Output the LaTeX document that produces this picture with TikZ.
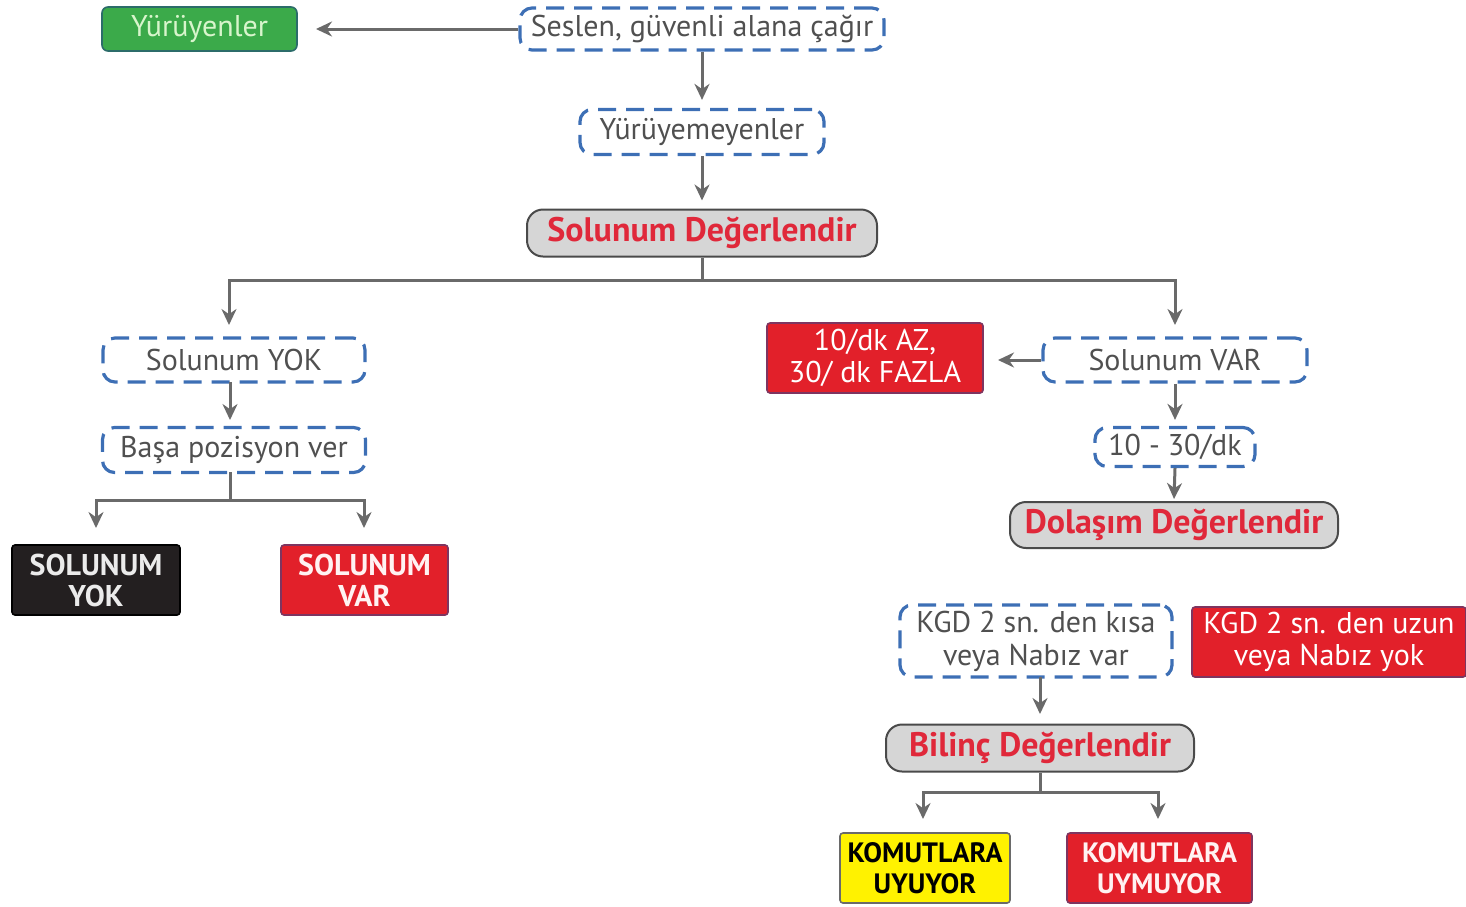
\documentclass[tikz,border=0pt]{standalone}
\usepackage{fontspec}
\setmainfont{PT Sans}
\usetikzlibrary{arrows.meta}
\definecolor{dashblue}{HTML}{3D6FB5}
\definecolor{txtgray}{HTML}{505050}
\definecolor{arrgray}{HTML}{6A6A6A}
\definecolor{boxred}{HTML}{E2202A}
\definecolor{redrim}{HTML}{7E3560}
\definecolor{evalred}{HTML}{E0283A}
\definecolor{evalfill}{HTML}{D6D6D6}
\definecolor{evalrim}{HTML}{4A4A4A}
\definecolor{okgreen}{HTML}{3BAA4A}
\definecolor{greenrim}{HTML}{2C6C6A}
\definecolor{greentxt}{HTML}{D8F5CC}
\definecolor{warnyellow}{HTML}{FFF200}
\definecolor{darkbox}{HTML}{231F20}
\tikzset{
  dashbox/.style={draw=dashblue, line width=1.6pt, dash pattern=on 9pt off 5pt,
    rounded corners=6pt, text=txtgray, font=\fontsize{15}{16.5}\selectfont,
    inner sep=0pt, align=center},
  evalbox/.style={draw=evalrim, fill=evalfill, line width=1pt, rounded corners=8pt,
    text=evalred, font=\fontsize{17}{19}\selectfont\bfseries, inner sep=0pt},
  redbox/.style={draw=redrim, fill=boxred, line width=0.8pt, rounded corners=1.5pt,
    text=white, font=\fontsize{15}{16}\selectfont, inner sep=0pt, align=center},
  capbox/.style={line width=0.8pt, rounded corners=1.5pt,
    font=\fontsize{15}{15.5}\selectfont\bfseries, inner sep=0pt, align=center},
  smallcap/.style={font=\fontsize{14}{15.5}\selectfont\bfseries},
  flow/.style={draw=arrgray, line width=1.5pt, -{Stealth[length=8pt,width=7.5pt]}},
  link/.style={draw=arrgray, line width=1.5pt},
}
\begin{document}
\begin{tikzpicture}[x=0.5pt, y=-0.5pt]
\useasboundingbox (0,0) rectangle (1466,906);

% first triage step
\node[capbox, draw=greenrim, fill=okgreen, text=greentxt, font=\fontsize{15}{16}\selectfont,
      minimum width=97.5pt, minimum height=22pt, rounded corners=3pt] (walk) at (199.5,29) {Yürüyenler};
\node[dashbox, minimum width=182pt, minimum height=21pt] (call) at (702,29) {Seslen, güvenli alana çağır};
\node[dashbox, minimum width=122pt, minimum height=22.5pt] (nowalk) at (702,132) {Yürüyemeyenler};
\node[evalbox, minimum width=175pt, minimum height=23.5pt] (resp) at (702,233) {Solunum Değerlendir};

% no breathing branch
\node[dashbox, minimum width=131pt, minimum height=22pt] (rno) at (234,360) {Solunum YOK};
\node[dashbox, minimum width=131.5pt, minimum height=22.5pt] (pos) at (234,450) {Başa pozisyon ver};
\node[capbox, draw=black, fill=darkbox, text=white!92!black,
      minimum width=84pt, minimum height=35pt] (dead) at (96,580) {SOLUNUM\\YOK};
\node[capbox, draw=redrim, fill=boxred, text=white!95!red,
      minimum width=83.5pt, minimum height=35pt] (rback) at (364.5,580) {SOLUNUM\\VAR};

% breathing branch
\node[dashbox, minimum width=132pt, minimum height=22pt] (ryes) at (1175,360) {Solunum VAR};
\node[redbox, minimum width=108pt, minimum height=35pt] (rate) at (875,358) {10/dk AZ,\\30/ dk FAZLA};
\node[dashbox, minimum width=80pt, minimum height=19.5pt] (norm) at (1175,447) {10 - 30/dk};
\node[evalbox, minimum width=164pt, minimum height=23pt] (circ) at (1174,525) {Dolaşım Değerlendir};

% circulation
\node[dashbox, minimum width=136pt, minimum height=36pt] (kgdok) at (1036,641) {KGD 2 sn. den kısa\\veya Nabız var};
\node[redbox, minimum width=137pt, minimum height=35pt] (kgdbad) at (1329,642) {KGD 2 sn. den uzun\\veya Nabız yok};
\node[evalbox, minimum width=154pt, minimum height=23.5pt] (cons) at (1040,748) {Bilinç Değerlendir};
\node[capbox, smallcap, draw=arrgray, fill=warnyellow, text=black,
      minimum width=85pt, minimum height=35pt] (obey) at (925,868) {KOMUTLARA\\UYUYOR};
\node[capbox, smallcap, draw=redrim, fill=boxred, text=white!95!red,
      minimum width=92.5pt, minimum height=35pt] (noobey) at (1159.5,868) {KOMUTLARA\\UYMUYOR};

% junctions and arrow ends
\coordinate (walktip) at (316,29);
\coordinate (rj) at (702,280);
\coordinate (rnotip) at (229,325);
\coordinate (ryestip) at (1175,325);
\coordinate (rnofoot) at (230,382);
\coordinate (postip) at (230,420);
\coordinate (posfoot) at (230,472);
\coordinate (pj) at (230,500);
\coordinate (deadtip) at (96,528);
\coordinate (rbacktip) at (364,528);
\coordinate (ratetip) at (998,358);
\coordinate (kgdfoot) at (1040,677);
\coordinate (constip) at (1040,714);
\coordinate (cj) at (1040,792);
\coordinate (obeytip) at (923,819);
\coordinate (noobeytip) at (1158,819);

% connectors
\draw[flow] (call.west) -- (walktip);
\draw[flow] (call.south) -- ([yshift=4pt]nowalk.north);
\draw[flow] (nowalk.south) -- ([yshift=4pt]resp.north);

\draw[link] (resp.south) -- (rj);
\draw[flow] (rj) -| (rnotip);
\draw[flow] (rj) -| (ryestip);

\draw[flow] (rnofoot) -- (postip);
\draw[link] (posfoot) -- (pj);
\draw[flow] (pj) -| (deadtip);
\draw[flow] (pj) -| (rbacktip);

\draw[flow] (ryes.west) -- (ryes.west -| ratetip);
\draw[flow] (ryes.south) -- ([yshift=3pt]norm.north);
\draw[flow] (norm.south) -- ([yshift=1pt]circ.north);

\draw[flow] (kgdfoot) -- (constip);
\draw[link] (cons.south) -- (cj);
\draw[flow] (cj) -| (obeytip);
\draw[flow] (cj) -| (noobeytip);
\end{tikzpicture}
\end{document}
